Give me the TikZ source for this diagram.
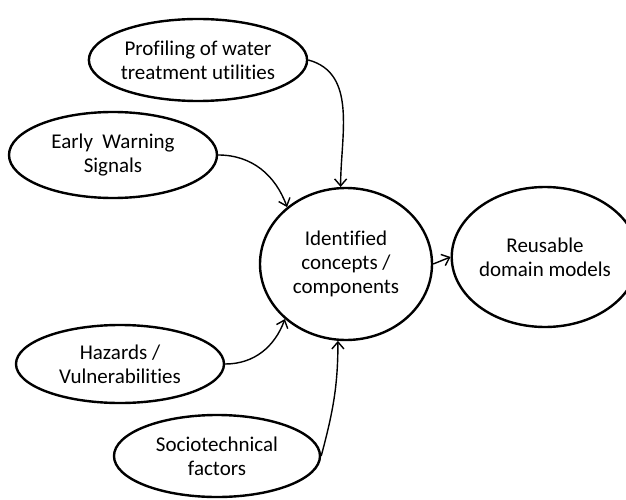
\documentclass[tikz,border=0pt]{standalone}
\usepackage{fontspec}
\setmainfont[Ligatures=NoCommon]{Carlito}
\usetikzlibrary{shapes.geometric,arrows.meta}

\begin{document}
\begin{tikzpicture}[x=1pt,y=1pt,
  bubble/.style={ellipse,draw,line width=2.4pt,inner sep=0pt,align=center,
    font=\fontsize{21}{24}\selectfont},
  link/.style={line width=1.4pt,-{Straight Barb[length=7pt,width=12pt]}}]
\useasboundingbox (0,0) rectangle (626,499);
% sources
\node[bubble,minimum width=208,minimum height=82] (prof) at (198,439) {Profiling of water\\treatment utilities};
\node[bubble,minimum width=208,minimum height=86] (early) at (113,344) {Early\ \ Warning\\Signals};
\node[bubble,minimum width=208,minimum height=78] (haz) at (120,135) {Hazards /\\Vulnerabilities};
\node[bubble,minimum width=206,minimum height=82] (socio) at (217,43) {Sociotechnical\\factors};
% middle and result
\node[bubble,minimum width=172,minimum height=152] (ident) at (346,235) {Identified\\concepts /\\components};
\node[bubble,minimum width=164,minimum height=140] (reus) at (545,242) {Reusable\\domain models};
% arrows
\draw[link] (prof.east) to[out=-15,in=90] (ident.94);
\draw[link] (early.east) to[out=0,in=110] (ident.136);
\draw[link] (haz.east) to[out=0,in=-110] (ident.222);
\draw[link] (socio.east) to[out=75,in=-90] (ident.264);
\draw[link] (ident.east) -- (reus.west);
\end{tikzpicture}
\end{document}
